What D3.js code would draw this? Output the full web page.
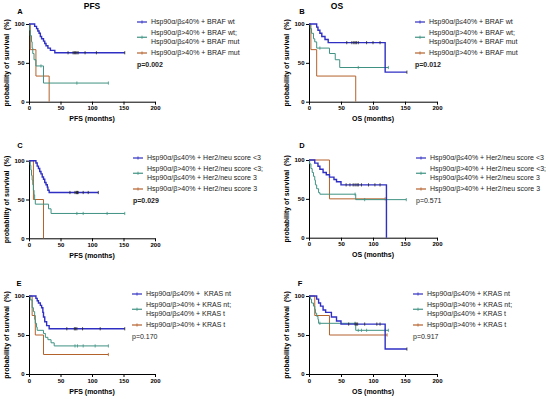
<!DOCTYPE html>
<html>
<head lang="en">
<meta charset="UTF-8">
<title></title>
<script src="https://cdn.jsdelivr.net/npm/d3@7"></script>
<style>
    body{margin:0;background:#fff;}
    svg{font-family:"Liberation Sans",Arial,sans-serif;}
    .axis path,.axis line{stroke:#000;stroke-width:1px;}
    .axis text{font-size:6px;font-weight:bold;fill:#000;}
    .curve{fill:none;}
    .lg{font-size:7px;fill:#222;white-space:pre;}
    .albl{font-size:7px;font-weight:bold;white-space:pre;}
</style>
</head>
<body>
<script>
    // ---- data (months, % survival) ----
    var xTicks=[0,50,100,150,200];
    var yTicks=[0,50,100];
    var colors=["#2f2fc4","#3f9282","#b4622c"];

    // A  PFS / BRAF
    var pfsBrafWt=[[0,100],[9,97],[12,94],[14,91],[16,88],[18,84],[20,81],[23,78],[25,75],[27,72],[30,69],[34,66],[41,63],[152,63]];
    var pfsBrafWtCens=[62,70,72,74,76,78,89,107,152];
    var pfsBrafMix=[[0,100],[1,92],[2,85],[4,77],[5,69],[6,62],[8,54],[11,46],[23,24],[126,24]];
    var pfsBrafMixCens=[19,76,126];
    var pfsBrafMut=[[0,100],[2,67],[11,33],[32,0]];
    var pfsBrafMutCens=[];
    // B  OS / BRAF
    var osBrafWt=[[0,100],[12,96],[14,92],[17,88],[20,84],[25,80],[30,76],[119,38],[153,38]];
    var osBrafWtCens=[59,67,70,72,74,77,90,100,111,153];
    var osBrafMix=[[0,100],[2,94],[4,88],[7,81],[9,77],[12,69],[32,62],[41,54],[48,44],[124,44]];
    var osBrafMixCens=[17,77,124];
    var osBrafMut=[[0,100],[3,67],[12,33],[73,0]];
    var osBrafMutCens=[];
    // C  PFS / Her2
    var pfsHerLow=[[0,100],[11,97],[13,93],[15,90],[17,86],[19,83],[21,79],[23,76],[25,72],[27,69],[29,66],[30,62],[32,59],[110,59]];
    var pfsHerLowCens=[65,73,75,76,77,78,86,94,110];
    var pfsHerMix=[[0,100],[2,94],[3,88],[4,81],[5,75],[6,69],[7,62],[8,56],[9,50],[10,44],[31,38],[35,32],[152,32]];
    var pfsHerMixCens=[76,86,124,152];
    var pfsHerHigh=[[0,100],[7,50],[23,0]];
    var pfsHerHighCens=[];
    // D  OS / Her2
    var osHerLow=[[0,100],[9,96],[14,92],[17,88],[22,84],[27,81],[32,78],[39,75],[43,72],[50,68],[121,0]];
    var osHerLowCens=[58,64,69,72,75,77,82,93,103,111];
    var osHerMix=[[0,100],[1,95],[3,89],[5,84],[7,79],[9,74],[10,68],[12,63],[15,58],[17,56],[73,49],[152,49]];
    var osHerMixCens=[72,87,121,152];
    var osHerHigh=[[0,100],[32,50],[119,50]];
    var osHerHighCens=[119];
    // E  PFS / KRAS
    var pfsKrasNt=[[0,100],[11,97],[13,94],[15,91],[18,88],[20,85],[22,79],[23,73],[25,67],[28,62],[32,58],[152,58]];
    var pfsKrasNtCens=[60,72,74,76,85,113,152];
    var pfsKrasMix=[[0,100],[2,95],[5,85],[7,80],[9,70],[10,65],[12,60],[13,56],[23,52],[26,47],[30,44],[35,40],[40,36],[126,36]];
    var pfsKrasMixCens=[73,77,86,105,126];
    var pfsKrasT=[[0,100],[5,75],[10,50],[23,25],[126,25]];
    var pfsKrasTCens=[126];
    // F  OS / KRAS
    var osKrasNt=[[0,100],[12,96],[15,91],[18,87],[22,82],[26,79],[35,73],[43,68],[50,64],[119,32],[153,32]];
    var osKrasNtCens=[62,72,74,76,87,106,111,153];
    var osKrasMix=[[0,100],[2,96],[4,91],[7,87],[9,83],[10,78],[12,74],[14,70],[15,65],[73,56],[124,56]];
    var osKrasMixCens=[17,72,77,82,90,119,124];
    var osKrasT=[[0,100],[9,75],[32,50],[122,50]];
    var osKrasTCens=[122];

    var legendBraf=[["Hsp90\u03b1/\u03b2\u226440% + BRAF wt"],["Hsp90\u03b1/\u03b2>40% + BRAF wt;","Hsp90\u03b1/\u03b2\u226440% + BRAF mut"],["Hsp90\u03b1/\u03b2>40% + BRAF mut"]];
    var legendHer=[["Hsp90\u03b1/\u03b2\u226440% + Her2/neu score <3"],["Hsp90\u03b1/\u03b2>40% + Her2/neu score <3;","Hsp90\u03b1/\u03b2\u226440% + Her2/neu score 3"],["Hsp90\u03b1/\u03b2>40% + Her2/neu score 3"]];
    var legendKrasE=[["Hsp90\u03b1/\u03b2\u226440% +  KRAS nt"],["Hsp90\u03b1/\u03b2>40% + KRAS nt;","Hsp90\u03b1/\u03b2\u226440% + KRAS t"],["Hsp90\u03b1/\u03b2>40% + KRAS t"]];
    var legendKrasF=[["Hsp90\u03b1/\u03b2\u226440% + KRAS nt"],["Hsp90\u03b1/\u03b2>40% + KRAS nt;","Hsp90\u03b1/\u03b2\u226440% + KRAS t"],["Hsp90\u03b1/\u03b2>40% + KRAS t"]];
    var letters=["A","B","C","D","E","F"];
    var pValues=["p=0.002","p=0.012","p=0.029","p=0.571","p=0.170","p=0.917"];
    var pBold=[true,true,true,false,false,false];
    var xLabels=["PFS (months)","OS (months)","PFS (months)","OS (months)","PFS (months)","OS (months)"];

    // layout of the six panels (pixels)
    var frames=[
        {x0:29,x1:155,yTop:24,yBot:101.7,lx:137,ly:22,letter:[20,11],title:["PFS",92]},
        {x0:309,x1:437,yTop:24,yBot:101.7,lx:415,ly:22,letter:[302,11],title:["OS",337]},
        {x0:29,x1:155,yTop:160.7,yBot:238.3,lx:133,ly:158,letter:[20,145]},
        {x0:309,x1:437,yTop:160,yBot:237.7,lx:416,ly:158,letter:[302,145]},
        {x0:29,x1:155,yTop:296,yBot:374,lx:132,ly:294,letter:[19,283]},
        {x0:309,x1:437,yTop:296,yBot:374,lx:413,ly:294,letter:[300,283]}
    ];
    var panels=[
        {curves:[[pfsBrafWt,pfsBrafWtCens],[pfsBrafMix,pfsBrafMixCens],[pfsBrafMut,pfsBrafMutCens]],legend:legendBraf},
        {curves:[[osBrafWt,osBrafWtCens],[osBrafMix,osBrafMixCens],[osBrafMut,osBrafMutCens]],legend:legendBraf},
        {curves:[[pfsHerLow,pfsHerLowCens],[pfsHerMix,pfsHerMixCens],[pfsHerHigh,pfsHerHighCens]],legend:legendHer},
        {curves:[[osHerLow,osHerLowCens],[osHerMix,osHerMixCens],[osHerHigh,osHerHighCens]],legend:legendHer},
        {curves:[[pfsKrasNt,pfsKrasNtCens],[pfsKrasMix,pfsKrasMixCens],[pfsKrasT,pfsKrasTCens]],legend:legendKrasE},
        {curves:[[osKrasNt,osKrasNtCens],[osKrasMix,osKrasMixCens],[osKrasT,osKrasTCens]],legend:legendKrasF}
    ];

    var _svg=d3.select("body").append("svg")
            .attr("width",550)
            .attr("height",399);

    panels.forEach(function(p,i){
        var f=frames[i];
        var x=d3.scaleLinear().domain([0,200]).range([f.x0,f.x1]);
        var y=d3.scaleLinear().domain([0,100]).range([f.yBot,f.yTop]);
        var g=_svg.append("g");

        g.append("g").attr("class","axis")
                .attr("transform","translate(0,"+f.yBot+")")
                .call(d3.axisBottom(x).tickValues(xTicks).tickSize(3).tickSizeOuter(0).tickPadding(1.5));
        g.append("g").attr("class","axis")
                .attr("transform","translate("+f.x0+",0)")
                .call(d3.axisLeft(y).tickValues(yTicks).tickSize(3).tickSizeOuter(0).tickPadding(1.5));
        g.selectAll(".axis .domain").attr("stroke-width",1.1);

        g.append("text").attr("class","albl")
                .attr("x",(f.x0+f.x1)/2).attr("y",f.yBot+19.5)
                .attr("text-anchor","middle").text(xLabels[i]);
        g.append("text").attr("class","albl")
                .attr("transform","translate("+(f.x0-20)+","+((f.yTop+f.yBot)/2)+") rotate(-90)")
                .attr("text-anchor","middle").attr("font-size","6.6px")
                .text("probability of survival  (%)");
        g.append("text").attr("x",f.letter[0]).attr("y",f.letter[1]+3)
                .attr("text-anchor","middle").attr("font-size","7.5px").attr("font-weight","bold")
                .text(letters[i]);
        if(f.title){
            g.append("text").attr("x",f.title[1]).attr("y",9)
                    .attr("text-anchor","middle").attr("font-size","8.5px").attr("font-weight","bold")
                    .text(f.title[0]);
        }

        var line=d3.line().x(function(d){return x(d[0]);}).y(function(d){return y(d[1]);})
                .curve(d3.curveStepAfter);
        // draw green & brown first, blue on top
        [2,1,0].forEach(function(k){
            var pts=p.curves[k][0], cens=p.curves[k][1];
            g.append("path").attr("class","curve")
                    .attr("d",line(pts))
                    .attr("stroke",colors[k])
                    .attr("stroke-width",k==0?1.4:1);
            var times=pts.map(function(d){return d[0];});
            g.selectAll(null).data(cens).enter().append("line")
                    .attr("x1",function(t){return x(t);})
                    .attr("x2",function(t){return x(t);})
                    .attr("y1",function(t){return y(pts[Math.max(0,d3.bisectRight(times,t)-1)][1])-1.6;})
                    .attr("y2",function(t){return y(pts[Math.max(0,d3.bisectRight(times,t)-1)][1])+1.6;})
                    .attr("stroke",k==0?"#222":colors[k]).attr("stroke-width",0.8);
        });

        // legend
        var rows=[[0],[11,19.5],[31]];
        p.legend.forEach(function(lines,k){
            var ys=rows[k].map(function(r){return f.ly+r;});
            var my=d3.mean(ys);
            g.append("line").attr("x1",f.lx).attr("x2",f.lx+10).attr("y1",my).attr("y2",my)
                    .attr("stroke",colors[k]).attr("stroke-width",1.2);
            g.append("line").attr("x1",f.lx+5).attr("x2",f.lx+5).attr("y1",my-1.6).attr("y2",my+1.6)
                    .attr("stroke",colors[k]).attr("stroke-width",0.8);
            lines.forEach(function(t,j){
                g.append("text").attr("class","lg")
                        .attr("x",f.lx+14).attr("y",ys[j]).attr("dy","0.35em").text(t);
            });
        });
        g.append("text").attr("x",f.lx).attr("y",f.ly+43).attr("dy","0.35em")
                .attr("font-size","7px").attr("font-weight",pBold[i]?"bold":"normal")
                .attr("fill","#222").text(pValues[i]);
    });
</script>
</body>
</html>
